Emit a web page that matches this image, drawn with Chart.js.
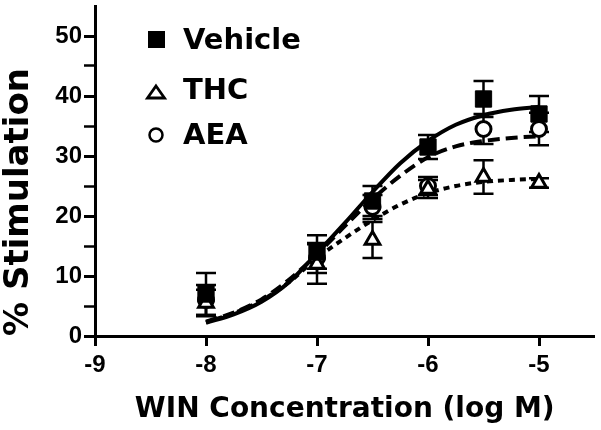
<!DOCTYPE html>
<html>
<head>
<meta charset="utf-8">
<script src="https://cdn.jsdelivr.net/npm/chart.js@4.4.1/dist/chart.umd.min.js"></script>
<style>
  body { margin: 0; background: #fff; }
  #wrap { position: relative; width: 601px; height: 430px; }
  .leg { position: absolute; left: 183px; font: bold 29px "DejaVu Sans"; line-height: 29px; color: #000; white-space: nowrap; }
  #legMarks { position: absolute; left: 0; top: 0; }
</style>
</head>
<body>
<div id="wrap">
  <canvas id="chart" width="601" height="430"></canvas>
  <svg id="legMarks" width="200" height="160">
    <rect x="148" y="31" width="17" height="17" fill="#000"/>
    <polygon points="156,86 164.5,98 147.5,98" fill="#fff" stroke="#000" stroke-width="2.8" stroke-linejoin="miter"/>
    <circle cx="156" cy="135" r="6.5" fill="#fff" stroke="#000" stroke-width="2.5"/>
  </svg>
  <div class="leg" style="top:25px">Vehicle</div>
  <div class="leg" style="top:75px">THC</div>
  <div class="leg" style="top:120px">AEA</div>
</div>
<script>
// WIN dose (log M) and group means / SEM
const doses = [-8, -7, -6.5, -6, -5.5, -5];
const vehicleMean = [7, 14, 22.5, 31.5, 39.5, 37];
const vehicleSem = [3.5, 2.8, 2.5, 2, 3, 3];
const thcMean = [5.5, 12, 16, 24.5, 26.5, 25.5];
const thcSem = [2.2, 3.3, 3, 1.5, 2.8, 0.8];
const aeaMean = [6, 13, 21.5, 25, 34.5, 34.5];
const aeaSem = [2.5, 2.5, 2, 1.5, 2.5, 2.7];

// fitted curves
const curveX = [-8, -7.75, -7.5, -7.25, -7, -6.75, -6.5, -6.25, -6, -5.75, -5.5, -5.25, -5];
const vehicleFit = [2.2, 3.6, 5.7, 9.0, 13.8, 18.8, 24.0, 28.8, 32.5, 35.2, 36.8, 37.7, 38.2];
const aeaFit = [2.4, 3.9, 6.1, 9.4, 13.6, 18.3, 22.8, 26.7, 29.8, 31.6, 32.5, 33.0, 33.3];
const thcFit = [2.3, 3.8, 5.9, 9.0, 13.0, 16.3, 19.3, 21.9, 23.8, 25.0, 25.7, 26.0, 26.2];

const xTicks = [-9, -8, -7, -6, -5];
const yTicks = [0, 10, 20, 30, 40, 50];

function pts(xs, ys) {
  return xs.map((x, i) => ({ x: x, y: ys[i] }));
}

const groups = [
  { mean: vehicleMean, sem: vehicleSem },
  { mean: thcMean, sem: thcSem },
  { mean: aeaMean, sem: aeaSem }
];

// error bars drawn under the markers
const errorBars = {
  id: 'errorBars',
  beforeDatasetsDraw(chart) {
    const { ctx, scales: { x, y } } = chart;
    ctx.save();
    ctx.strokeStyle = '#000';
    ctx.lineWidth = 2.5;
    groups.forEach(g => {
      doses.forEach((d, i) => {
        const px = x.getPixelForValue(d);
        const top = y.getPixelForValue(g.mean[i] + g.sem[i]);
        const bot = y.getPixelForValue(g.mean[i] - g.sem[i]);
        ctx.beginPath();
        ctx.moveTo(px, top); ctx.lineTo(px, bot);
        ctx.moveTo(px - 10, top); ctx.lineTo(px + 10, top);
        ctx.moveTo(px - 10, bot); ctx.lineTo(px + 10, bot);
        ctx.stroke();
      });
    });
    ctx.restore();
  }
};

const ctx = document.getElementById('chart').getContext('2d');

new Chart(ctx, {
  type: 'line',
  data: {
    datasets: [
      {
        label: 'Vehicle',
        data: pts(doses, vehicleMean),
        showLine: false,
        pointStyle: 'rect',
        pointRadius: 11.5,
        backgroundColor: '#000',
        borderColor: '#000',
        borderWidth: 1
      },
      {
        label: 'THC',
        data: pts(doses, thcMean),
        showLine: false,
        pointStyle: 'triangle',
        pointRadius: 8.5,
        backgroundColor: '#fff',
        borderColor: '#000',
        borderWidth: 3
      },
      {
        label: 'AEA',
        data: pts(doses, aeaMean),
        showLine: false,
        pointStyle: 'circle',
        pointRadius: 7.5,
        backgroundColor: '#fff',
        borderColor: '#000',
        borderWidth: 3
      },
      {
        label: 'Vehicle fit',
        data: pts(curveX, vehicleFit),
        borderColor: '#000',
        borderWidth: 4,
        pointRadius: 0,
        cubicInterpolationMode: 'monotone'
      },
      {
        label: 'AEA fit',
        data: pts(curveX, aeaFit),
        borderColor: '#000',
        borderWidth: 4,
        borderDash: [12, 6],
        pointRadius: 0,
        cubicInterpolationMode: 'monotone'
      },
      {
        label: 'THC fit',
        data: pts(curveX, thcFit),
        borderColor: '#000',
        borderWidth: 4,
        borderDash: [6, 5],
        pointRadius: 0,
        cubicInterpolationMode: 'monotone'
      }
    ]
  },
  options: {
    responsive: false,
    animation: false,
    layout: { autoPadding: false, padding: { top: 6, right: 6.5, left: 0, bottom: 0 } },
    plugins: {
      legend: { display: false },
      tooltip: { enabled: false }
    },
    scales: {
      x: {
        type: 'linear',
        min: -9,
        max: -4.5,
        afterFit: s => { s.height = 94; s.paddingLeft = 0; s.paddingRight = 0; },
        afterBuildTicks: s => { s.ticks = xTicks.map(v => ({ value: v })); },
        border: { display: true, width: 3, color: '#000' },
        grid: { drawOnChartArea: false, drawTicks: true, tickLength: 10, tickColor: '#000', tickWidth: 3 },
        ticks: {
          color: '#000',
          padding: 5,
          maxRotation: 0,
          font: { family: '"Liberation Sans", Arial', size: 24, weight: 'bold' },
          callback: v => String(v)
        },
        title: {
          display: true,
          text: 'WIN Concentration (log M)',
          color: '#000',
          font: { family: '"DejaVu Sans"', size: 28, weight: 'bold', lineHeight: 1 },
          padding: { top: 0, bottom: 6 }
        }
      },
      y: {
        min: 0,
        max: 55,
        afterFit: s => { s.width = 95; s.paddingTop = 0; s.paddingBottom = 0; },
        afterBuildTicks: s => {
          const t = [];
          for (let v = 0; v <= 50; v += 5) t.push({ value: v });
          s.ticks = t;
        },
        border: { display: true, width: 3, color: '#000' },
        grid: {
          drawOnChartArea: false,
          drawTicks: true,
          tickLength: 11,
          tickColor: '#000',
          tickWidth: c => (c.tick && yTicks.includes(c.tick.value)) ? 3 : 2.5
        },
        ticks: {
          color: '#000',
          padding: 2,
          font: { family: '"Liberation Sans", Arial', size: 24, weight: 'bold' },
          callback: v => yTicks.includes(v) ? String(v) : ''
        },
        title: {
          display: true,
          text: '% Stimulation',
          align: 'start',
          color: '#000',
          font: { family: '"DejaVu Sans"', size: 34, weight: 'bold', lineHeight: 1 },
          padding: { top: 2, bottom: 0 }
        }
      }
    }
  },
  plugins: [errorBars]
});
</script>
</body>
</html>
